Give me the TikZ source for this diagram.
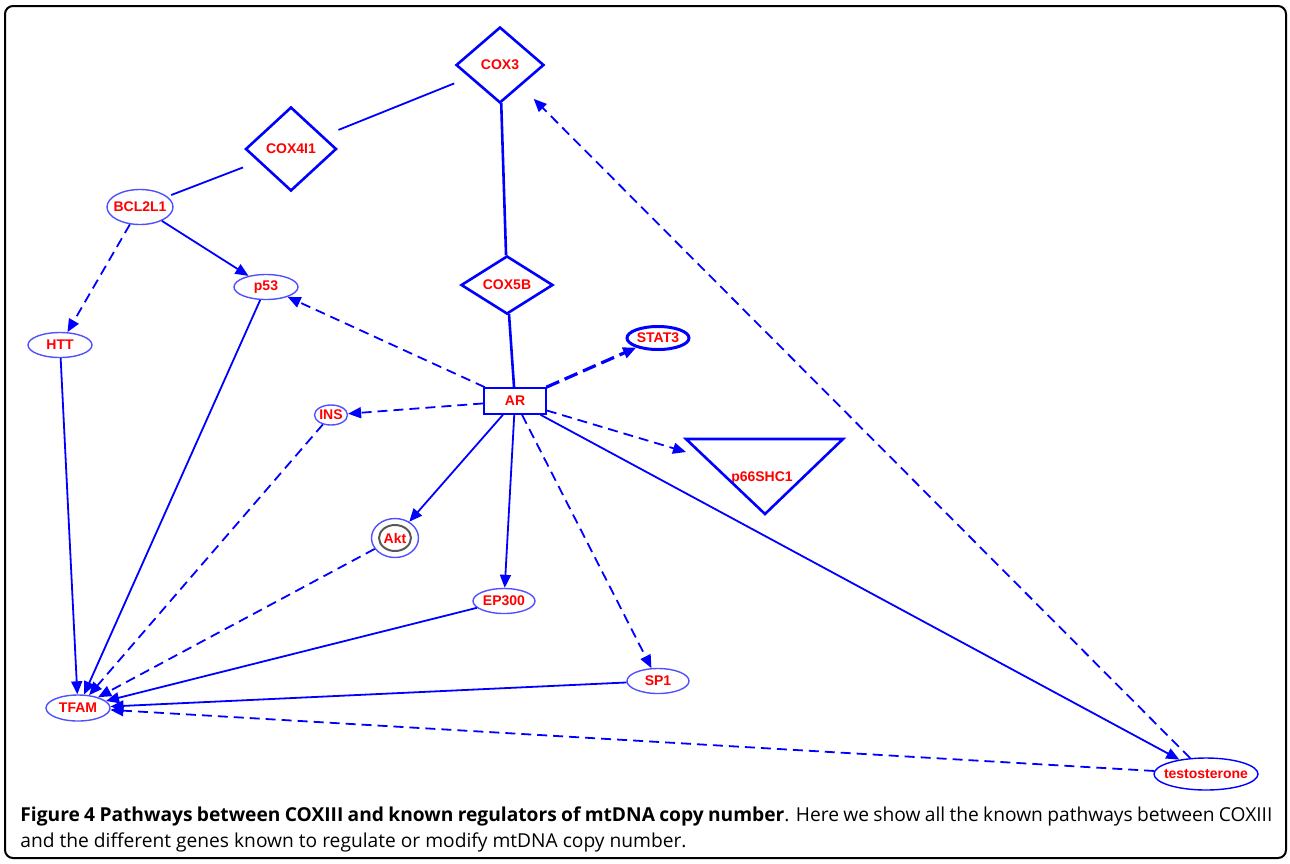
\documentclass[tikz,border=0pt]{standalone}
\usepackage{fontspec}
\setmainfont{Open Sans}
\newfontfamily\genefont{Liberation Sans}
\usetikzlibrary{shapes.geometric,arrows.meta}
\definecolor{netblue}{RGB}{0,0,255}
\definecolor{ringblue}{RGB}{80,80,255}
\definecolor{genered}{RGB}{255,0,0}
\tikzset{
  genetext/.style={text=genered, font=\genefont\bfseries\fontsize{7}{8}\selectfont},
  gene/.style={ellipse, draw=ringblue, line width=0.7pt, genetext, inner xsep=-3pt, inner ysep=0pt, minimum width=31pt, minimum height=12.5pt},
  cox/.style={diamond, draw=netblue, line width=1.3pt, genetext, inner sep=0pt},
  link/.style={netblue, line width=0.9pt},
  act/.style={link, -{Triangle[length=6.5pt,width=5.5pt]}},
  dashact/.style={act, dash pattern=on 5pt off 3pt}
}
\begin{document}
\begin{tikzpicture}[x=0.5pt,y=-0.5pt]
\useasboundingbox (0,0) rectangle (1290,863);
\draw[line width=1pt, rounded corners=4pt] (5,6) rectangle (1286,858);

% genes
\node[cox, minimum width=44pt, minimum height=38pt] (cox3) at (500,65) {COX3};
\node[cox, minimum width=45.5pt, minimum height=42pt] (cox4) at (291,149) {COX4I1};
\node[cox, minimum width=46pt, minimum height=28pt] (cox5b) at (507,285) {COX5B};
\node[gene, minimum width=33pt, minimum height=17.5pt] (bcl) at (140,207) {BCL2L1};
\node[gene, minimum width=32pt] (p53) at (266,287) {p53};
\node[gene, minimum width=32pt] (htt) at (60,345) {HTT};
\node[gene, draw=netblue, line width=1.5pt, minimum width=31pt, minimum height=11.5pt] (stat3) at (658,338) {STAT3};
\node[rectangle, draw=netblue, line width=0.8pt, genetext, minimum width=31pt, minimum height=13pt] (ar) at (515,401) {AR};
\node[gene, minimum width=16.5pt, minimum height=10pt] (ins) at (331,415) {INS};
\node[gene, minimum width=23.5pt, minimum height=19.5pt,
  path picture={\draw[gray!70!black, line width=1pt] (path picture bounding box.center) ellipse [x radius=8pt, y radius=6.5pt];}] (akt) at (395,538) {Akt};
\node[gene] (ep300) at (504,601) {EP300};
\node[gene] (sp1) at (658,681) {SP1};
\node[gene, minimum width=32pt, minimum height=13pt] (tfam) at (78,708) {TFAM};
\node[gene, draw=netblue, minimum width=52pt, minimum height=16pt] (testo) at (1206,774) {testosterone};
\node[genetext] (p66) at (762,478) {p66SHC1};
\draw[netblue, line width=1.3pt] (686,439) -- (843,439) -- (765,514) -- cycle;
\coordinate (p66in) at (686,452);

% edges
\draw[link, shorten <=8pt, shorten >=8pt] (cox4) -- (cox3);
\draw[link, shorten <=2pt, shorten >=8pt] (bcl) -- (cox4);
\draw[dashact] (bcl) -- (htt);
\draw[act] (bcl) -- (p53);
\draw[link, line width=1.3pt] (cox3) -- (cox5b);
\draw[link, line width=1.3pt] (cox5b) -- (ar);
\draw[dashact] (ar) -- (p53);
\draw[dashact, line width=1.6pt, dash pattern=on 7pt off 3pt] (ar) -- (stat3);
\draw[dashact] (ar) -- (ins);
\draw[dashact] (ar) -- (p66in);
\draw[act] (ar) -- (akt);
\draw[act] (ar) -- (ep300);
\draw[dashact] (ar) -- (sp1);
\draw[act] (ar) -- (testo);
\draw[dashact, shorten >=9pt] (testo) -- (cox3);
\draw[dashact] (testo) -- (tfam);
\foreach \src in {htt,p53,ep300,sp1}
  \draw[act] (\src) -- (tfam);
\foreach \src in {ins,akt}
  \draw[dashact] (\src) -- (tfam);

% caption
\node[anchor=north west, text width=626pt, align=justify, inner sep=0pt, font=\fontsize{9.6}{13}\selectfont] (caption) at (20,806)
  {\textbf{Figure 4 Pathways between COXIII and known regulators of mtDNA copy number}. Here we show all the known pathways between COXIII\linebreak and the different genes known to regulate or modify mtDNA copy number.};
\end{tikzpicture}
\end{document}
